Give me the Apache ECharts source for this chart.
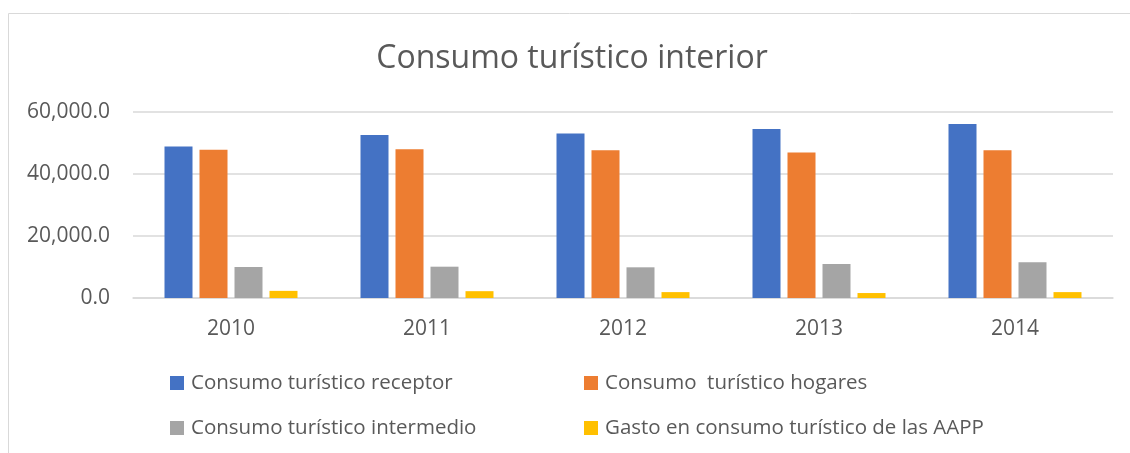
<!DOCTYPE html>
<html>
<head>
<meta charset="utf-8">
<script src="https://cdn.jsdelivr.net/npm/echarts@6/dist/echarts.min.js"></script>
<style>
  html, body { margin: 0; padding: 0; background: #fff; }
  #chart { width: 1130px; height: 453px; }
</style>
</head>
<body>
<div id="chart"></div>
<script>
const years = ['2010', '2011', '2012', '2013', '2014'];
const seriesNames = [
  'Consumo turístico receptor',
  'Consumo  turístico hogares',
  'Consumo turístico intermedio',
  'Gasto en consumo turístico de las AAPP'
];
const receptor = [48900, 52600, 53100, 54500, 56100];
const hogares = [47800, 48000, 47700, 46900, 47700];
const intermedio = [10000, 10100, 9900, 11000, 11500];
const aapp = [2300, 2200, 1900, 1600, 1900];
const palette = ['#4472C4', '#ED7D31', '#A5A5A5', '#FFC000'];

const chart = echarts.init(document.getElementById('chart'));
const font = '"Open Sans", sans-serif';
const textColor = '#595959';

// two vertical legends so the columns line up like the original
const legendBase = {
  orient: 'vertical',
  top: 371,
  padding: 0,
  icon: 'rect',
  itemWidth: 14,
  itemHeight: 14,
  itemGap: 21,
  textStyle: { fontFamily: font, fontSize: 20.5, color: textColor, lineHeight: 24, padding: [0, 0, 0, 2] }
};

const option = {
  animation: false,
  color: palette,
  title: {
    text: 'Consumo turístico interior',
    left: 572,
    top: 43,
    padding: 0,
    textAlign: 'center',
    textStyle: { fontFamily: font, fontSize: 32, fontWeight: 'normal', color: textColor }
  },
  legend: [
    Object.assign({ left: 170, data: [seriesNames[0], seriesNames[2]] }, legendBase),
    Object.assign({ left: 584, data: [seriesNames[1], seriesNames[3]] }, legendBase)
  ],
  graphic: [{
    type: 'rect',
    shape: { x: 8.5, y: 13.5, width: 1300, height: 600 },
    style: { fill: 'none', stroke: '#d9d9d9', lineWidth: 1 },
    silent: true
  }],
  grid: { left: 133, right: 17, top: 112, bottom: 155, containLabel: false },
  xAxis: {
    type: 'category',
    data: years,
    axisLine: { lineStyle: { color: '#d9d9d9', width: 1.5 } },
    axisTick: { show: false },
    axisLabel: { fontFamily: font, fontSize: 21, color: textColor, margin: 21 }
  },
  yAxis: {
    type: 'value',
    min: 0,
    max: 60000,
    interval: 20000,
    axisLine: { show: false },
    axisTick: { show: false },
    splitLine: { lineStyle: { color: '#d9d9d9', width: 1.5 } },
    axisLabel: {
      fontFamily: font, fontSize: 21, color: textColor, margin: 23,
      formatter: v => v.toLocaleString('en-US', { minimumFractionDigits: 1, maximumFractionDigits: 1 })
    }
  },
  series: [receptor, hogares, intermedio, aapp].map((data, i) => ({
    name: seriesNames[i],
    type: 'bar',
    data: data,
    barWidth: 28,
    barGap: '25%'
  }))
};

chart.setOption(option);
</script>
</body>
</html>
